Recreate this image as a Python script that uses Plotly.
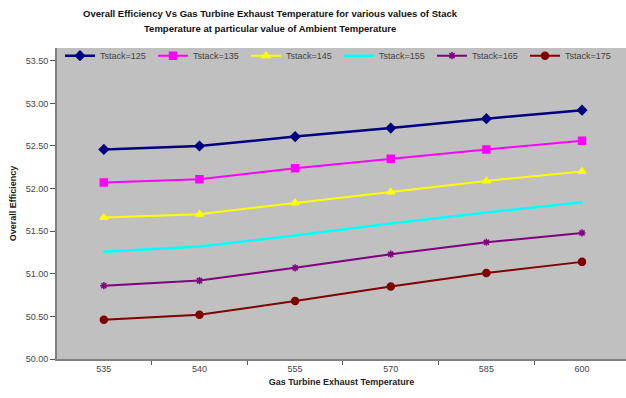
import plotly.graph_objects as go

categories = ["535", "540", "555", "570", "585", "600"]
series_names = ["Tstack=125", "Tstack=135", "Tstack=145", "Tstack=155", "Tstack=165", "Tstack=175"]
tstack_125 = [52.46, 52.50, 52.61, 52.71, 52.82, 52.92]
tstack_135 = [52.07, 52.11, 52.24, 52.35, 52.46, 52.56]
tstack_145 = [51.66, 51.70, 51.83, 51.96, 52.09, 52.20]
tstack_155 = [51.26, 51.32, 51.45, 51.59, 51.72, 51.84]
tstack_165 = [50.86, 50.92, 51.07, 51.23, 51.37, 51.48]
tstack_175 = [50.46, 50.52, 50.68, 50.85, 51.01, 51.14]
y_ticks = [50.0, 50.5, 51.0, 51.5, 52.0, 52.5, 53.0, 53.5]
title_lines = ["Overall Efficiency Vs Gas Turbine Exhaust Temperature for various values of Stack",
               "Temperature at particular value of Ambient Temperature"]

values = [tstack_125, tstack_135, tstack_145, tstack_155, tstack_165, tstack_175]
colors = ["#000080", "#FF00FF", "#FFFF00", "#00FFFF", "#800080", "#800000"]
symbols = ["diamond", "square", "triangle-up", "x-thin", "asterisk-open", "circle"]
msizes = [7, 7, 7, 1, 6, 7]
lwidths = [2.5, 2, 2, 2.5, 2, 2]

fig = go.Figure()
for name, vals, c, s, ms, lw in zip(series_names, values, colors, symbols, msizes, lwidths):
    fig.add_trace(go.Scatter(
        x=categories, y=vals, name=name, mode="lines+markers",
        line=dict(color=c, width=lw),
        marker=dict(symbol=s, size=ms, color=c, line=dict(color=c, width=1.5)),
    ))

font_family = "Liberation Sans, Arial, sans-serif"
plot_top, plot_bottom = 48, 359
for txt, ypx in zip(title_lines, [14, 29]):
    fig.add_annotation(
        text="<b>" + txt + "</b>", xref="paper", yref="paper",
        x=(270 - 57) / 569, y=(plot_bottom - ypx) / (plot_bottom - plot_top),
        xanchor="center", yanchor="middle", showarrow=False,
        font=dict(size=9.5, color="#111111", family=font_family),
    )

fig.update_layout(
    width=626, height=398,
    margin=dict(l=57, r=0, t=48, b=39),
    paper_bgcolor="white",
    plot_bgcolor="#C0C0C0",
    font=dict(family=font_family, size=9, color="#333333"),
    showlegend=True,
    legend=dict(
        orientation="h", x=3 / 569, xanchor="left", y=1.022, yanchor="top",
        bgcolor="rgba(0,0,0,0)", font=dict(size=9, color="#444444"),
        entrywidth=48, entrywidthmode="pixels", itemwidth=30,
        tracegroupgap=0,
    ),
    xaxis=dict(
        type="category", range=[-0.49, 5.46],
        tickson="boundaries", ticks="outside", ticklen=4, tickcolor="#555555",
        showgrid=False, showline=True, linecolor="#808080", linewidth=2,
        tickfont=dict(size=9, color="#444444"),
        title=dict(text="<b>Gas Turbine Exhaust Temperature</b>", font=dict(size=9, color="#222222"), standoff=6),
        zeroline=False,
    ),
    yaxis=dict(
        range=[50.0, 53.65], tickvals=y_ticks, tickformat=".2f",
        ticks="outside", ticklen=5, tickcolor="#555555",
        showgrid=False, showline=True, linecolor="#808080", linewidth=2,
        tickfont=dict(size=9, color="#444444"),
        title=dict(text="<b>Overall Efficiency</b>", font=dict(size=9, color="#222222"), standoff=8),
        zeroline=False,
    ),
)

fig.write_html("out.html")
